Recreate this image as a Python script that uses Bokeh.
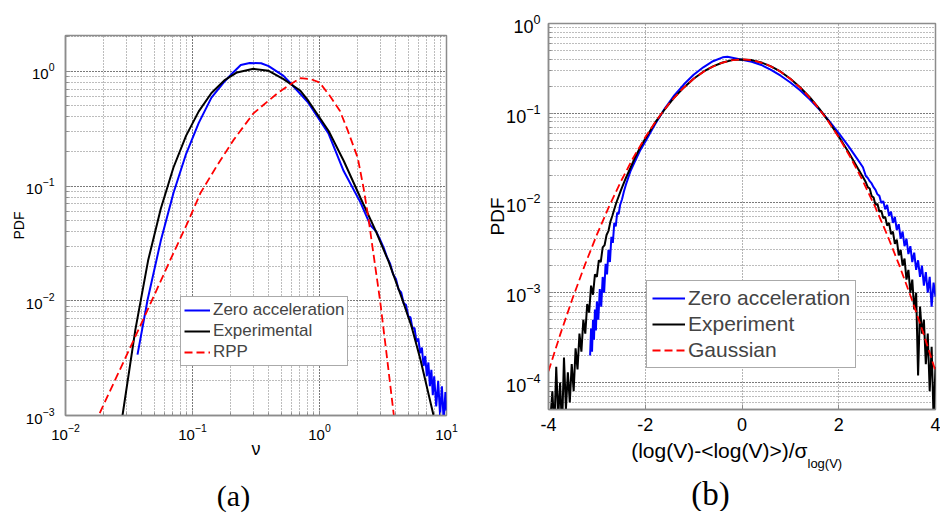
from bokeh.plotting import figure
from bokeh.models import Range1d, Legend, LegendItem, Label, FixedTicker
from bokeh.layouts import row
from bokeh.embed import file_html
from bokeh.resources import INLINE

# ---------------- data: panel (a) ----------------
zero_nu = [0.0369, 0.0443, 0.0562, 0.0708, 0.0891, 0.112, 0.141, 0.175, 0.209, 0.240,
           0.282, 0.347, 0.398, 0.521, 0.592, 0.818, 1.18, 1.55, 2.10, 2.52,
           2.8, 3.0, 3.2, 3.4, 3.6, 3.8, 4.0, 4.2, 4.4, 4.6, 4.8, 5.0, 5.2, 5.4, 5.6,
           5.8, 6.0, 6.2, 6.4, 6.6, 6.8, 7.0, 7.2, 7.4, 7.6, 7.8, 8.0, 8.3, 8.6, 8.9,
           9.2, 9.5, 9.8, 10.0]
zero_pdf = [3.39e-3, 0.0102, 0.0331, 0.087, 0.191, 0.355, 0.589, 0.794, 0.977, 1.135,
            1.18, 1.175, 1.109, 0.912, 0.787, 0.53, 0.285, 0.135, 0.072, 0.0454,
            0.040, 0.034, 0.029, 0.024, 0.021, 0.017, 0.0155, 0.0125, 0.0118, 0.0095,
            0.0092, 0.0073, 0.0072, 0.0057, 0.0058, 0.0044, 0.0047, 0.0035, 0.0039,
            0.0027, 0.0033, 0.0022, 0.0029, 0.0018, 0.0025, 0.0015, 0.0022, 0.0012,
            0.0020, 0.0010, 0.0018, 0.0009, 0.0016, 0.0011]

exp_nu = [0.0281, 0.0355, 0.0447, 0.0562, 0.0708, 0.0891, 0.112, 0.141, 0.178, 0.224,
          0.302, 0.398, 0.521, 0.708, 0.818, 1.18, 1.55, 2.10, 2.76, 3.5, 4.51, 5.3,
          6.24, 7.91, 8.5]
exp_pdf = [1.0e-3, 5.6e-3, 0.0224, 0.063, 0.145, 0.275, 0.447, 0.646, 0.832, 0.977,
           1.05, 1.01, 0.855, 0.676, 0.551, 0.302, 0.166, 0.079, 0.041, 0.022, 0.0101,
           0.0060, 3.06e-3, 1.0e-3, 6.3e-4]

rpp_nu = [0.0186, 0.04, 0.067, 0.09, 0.1156, 0.155, 0.21, 0.302, 0.40, 0.467, 0.58,
          0.708, 0.85, 1.0, 1.22, 1.45, 1.66, 2.0, 2.22, 2.43, 3.0, 3.4, 3.85]
rpp_pdf = [1.05e-3, 6.5e-3, 0.0228, 0.046, 0.087, 0.149, 0.251, 0.43, 0.558, 0.644,
           0.76, 0.87, 0.855, 0.80, 0.60, 0.45, 0.31, 0.176, 0.097, 0.052, 0.010,
           3.2e-3, 1.0e-3]

# ---------------- data: panel (b) ----------------
gauss_x = [-4.0, -3.75, -3.5, -3.25, -3.0, -2.75, -2.5, -2.25, -2.0, -1.75, -1.5, -1.25,
           -1.0, -0.75, -0.5, -0.25, 0.0, 0.25, 0.5, 0.75, 1.0, 1.25, 1.5, 1.75, 2.0,
           2.25, 2.5, 2.75, 3.0, 3.25, 3.5, 3.75, 4.0]
gauss_pdf = [1.338e-4, 3.527e-4, 8.727e-4, 2.029e-3, 4.432e-3, 9.094e-3, 1.753e-2,
             3.174e-2, 5.399e-2, 8.628e-2, 0.1295, 0.1826, 0.2420, 0.3011, 0.3521,
             0.3867, 0.3989, 0.3867, 0.3521, 0.3011, 0.2420, 0.1826, 0.1295, 8.628e-2,
             5.399e-2, 3.174e-2, 1.753e-2, 9.094e-3, 4.432e-3, 2.029e-3, 8.727e-4,
             3.527e-4, 1.338e-4]

expb_x = [-3.96, -3.92, -3.88, -3.84, -3.80, -3.76, -3.72, -3.68, -3.64, -3.60, -3.56,
          -3.52, -3.48, -3.44, -3.40, -3.36, -3.32, -3.28, -3.24, -3.20, -3.16, -3.12,
          -3.08, -3.04, -3.00, -2.96, -2.92, -2.88, -2.84, -2.80, -2.76, -2.72, -2.68,
          -2.64, -2.60, -2.50, -2.4, -2.3, -2.2, -2.1, -2.0, -1.8, -1.6, -1.4, -1.2,
          -1.0, -0.8, -0.6, -0.4, -0.2, 0.0, 0.2, 0.4, 0.6, 0.8, 1.0, 1.2, 1.4, 1.6,
          1.8, 2.0, 2.2, 2.4, 2.5, 2.56, 2.60, 2.64, 2.68, 2.72, 2.76, 2.80, 2.84, 2.88,
          2.92, 2.96, 3.00, 3.04, 3.08, 3.12, 3.16, 3.20, 3.24, 3.28, 3.32, 3.36, 3.40,
          3.44, 3.48, 3.52, 3.56, 3.60, 3.64, 3.68, 3.72, 3.76, 3.80, 3.84, 3.88, 3.92,
          3.96, 4.00]
expb_pdf = [4.0e-5, 8.0e-5, 3.0e-5, 1.5e-4, 4.0e-5, 1.0e-4, 3.0e-5, 1.9e-4, 5.0e-5,
            1.3e-4, 6.0e-5, 1.6e-4, 8.0e-5, 2.4e-4, 1.4e-4, 3.5e-4, 2.2e-4, 5.0e-4,
            3.5e-4, 7.5e-4, 6.0e-4, 1.2e-3, 9.5e-4, 1.6e-3, 1.5e-3, 2.3e-3, 2.2e-3,
            3.2e-3, 3.4e-3, 4.4e-3, 4.9e-3, 6.2e-3, 7.2e-3, 8.5e-3, 1.0e-2, 1.4e-2,
            1.9e-2, 2.5e-2, 3.3e-2, 4.2e-2, 5.2e-2, 7.8e-2, 0.110, 0.150, 0.194, 0.242,
            0.290, 0.333, 0.368, 0.391, 0.398, 0.391, 0.368, 0.333, 0.290, 0.242, 0.195,
            0.151, 0.112, 0.080, 0.055, 0.037, 0.024, 0.0195, 1.7e-2, 1.5e-2, 1.45e-2,
            1.2e-2, 1.15e-2, 9.5e-3, 9.8e-3, 8.0e-3, 8.2e-3, 6.8e-3, 7.0e-3, 5.6e-3,
            6.0e-3, 4.5e-3, 4.8e-3, 3.5e-3, 3.9e-3, 2.6e-3, 3.0e-3, 2.0e-3, 2.4e-3,
            1.4e-3, 1.8e-3, 1.0e-3, 1.4e-3, 6.5e-4, 1.0e-3, 1.2e-4, 7.0e-4, 3.5e-4,
            5.0e-4, 1.6e-4, 3.5e-4, 8.0e-5, 2.5e-4, 4.0e-5, 1.5e-4]

zerob_x = [-3.14, -3.12, -3.10, -3.08, -3.06, -3.04, -3.02, -3.00, -2.97, -2.94, -2.91,
           -2.88, -2.85, -2.82, -2.79, -2.76, -2.73, -2.70, -2.67, -2.64, -2.61, -2.58,
           -2.55, -2.52, -2.48, -2.44, -2.40, -2.30, -2.20, -2.10, -2.00, -1.80, -1.60,
           -1.40, -1.20, -1.00, -0.80, -0.60, -0.40, -0.30, -0.20, 0.0, 0.2, 0.4, 0.6,
           0.8, 1.0, 1.2, 1.4, 1.6, 1.8, 2.0, 2.2, 2.4, 2.5, 2.56, 2.60, 2.64, 2.68,
           2.72, 2.76, 2.80, 2.84, 2.88, 2.92, 2.96, 3.00, 3.04, 3.08, 3.12, 3.16, 3.20,
           3.24, 3.28, 3.32, 3.36, 3.40, 3.44, 3.48, 3.52, 3.56, 3.60, 3.64, 3.68, 3.72,
           3.76, 3.80, 3.84, 3.88, 3.92, 3.96, 4.00]
zerob_pdf = [2.0e-4, 4.0e-4, 2.2e-4, 5.0e-4, 3.0e-4, 6.5e-4, 3.8e-4, 8.0e-4, 5.0e-4,
             1.1e-3, 7.0e-4, 1.5e-3, 1.0e-3, 2.1e-3, 1.6e-3, 3.0e-3, 2.2e-3, 4.2e-3,
             3.6e-3, 6.0e-3, 5.5e-3, 7.8e-3, 7.5e-3, 9.5e-3, 1.1e-2, 1.35e-2, 1.6e-2,
             2.3e-2, 3.0e-2, 3.9e-2, 4.8e-2, 7.5e-2, 0.112, 0.158, 0.210, 0.268, 0.325,
             0.380, 0.420, 0.425, 0.415, 0.395, 0.375, 0.345, 0.305, 0.262, 0.220,
             0.180, 0.143, 0.110, 0.082, 0.060, 0.043, 0.030, 0.025, 2.0e-2, 1.9e-2,
             1.75e-2, 1.65e-2, 1.5e-2, 1.4e-2, 1.25e-2, 1.2e-2, 1.0e-2, 1.05e-2, 8.5e-3,
             9.5e-3, 7.2e-3, 8.0e-3, 6.0e-3, 7.0e-3, 5.0e-3, 5.8e-3, 4.0e-3, 4.8e-3,
             3.3e-3, 4.0e-3, 2.7e-3, 3.3e-3, 2.2e-3, 2.8e-3, 1.8e-3, 2.3e-3, 1.5e-3,
             2.0e-3, 1.2e-3, 1.7e-3, 1.0e-3, 1.5e-3, 7.0e-4, 1.3e-3, 9.0e-4]

xticks_b = [-4, -2, 0, 2, 4]
xtick_labels_b = ["-4", "-2", "0", "2", "4"]

FONT = "Liberation Sans"
SERIF = "Liberation Serif"
FRAME = "#8c8c8c"
GRID = "#5a5a5a"


def style(p, tick_size, xstand, ystand):
    p.outline_line_color = FRAME
    p.outline_line_width = 1.5
    p.background_fill_color = "white"
    p.border_fill_color = "white"
    for ax in p.axis:
        ax.axis_line_color = FRAME
        ax.axis_line_width = 1.5
        ax.major_tick_in = 5
        ax.major_tick_out = 0
        ax.minor_tick_in = 3
        ax.minor_tick_out = 0
        ax.major_tick_line_color = FRAME
        ax.minor_tick_line_color = FRAME
        ax.major_label_text_font = FONT
        ax.major_label_text_font_size = tick_size
        ax.major_label_text_color = "black"
        ax.axis_label_text_font = FONT
        ax.axis_label_text_font_style = "normal"
        ax.axis_label_text_color = "black"
    p.xaxis.major_label_standoff = xstand
    p.yaxis.major_label_standoff = ystand
    for g in (p.xgrid, p.ygrid):
        g.grid_line_color = GRID
        g.grid_line_dash = "1 2"
        g.grid_line_width = 1
        g.grid_line_alpha = 0.9
        g.minor_grid_line_color = GRID
        g.minor_grid_line_dash = "1 2"
        g.minor_grid_line_width = 1
        g.minor_grid_line_alpha = 0.8


# ---------------- panel (a) ----------------
p1 = figure(width=470, height=505, x_axis_type="log", y_axis_type="log",
            x_range=Range1d(1e-2, 10), y_range=Range1d(1e-3, 2.05),
            output_backend="svg", toolbar_location=None, title=None,
            min_border_left=65, min_border_right=24, min_border_top=23,
            min_border_bottom=101)
p1.margin = (12, 0, 0, 0)
style(p1, "15px", 8, 11)
p1.yaxis.axis_label = "PDF"
p1.yaxis.axis_label_text_font_size = "14px"
p1.yaxis.axis_label_standoff = -4
p1.xaxis.axis_label = "ν"
p1.xaxis.axis_label_text_font_size = "18px"
p1.xaxis.axis_label_standoff = -4

r1b = p1.line(zero_nu, zero_pdf, line_color="#0000ff", line_width=2)
r1k = p1.line(exp_nu, exp_pdf, line_color="black", line_width=2)
r1r = p1.line(rpp_nu, rpp_pdf, line_color="#ff0000", line_width=1.8, line_dash="8 4")

leg1 = Legend(items=[LegendItem(label="Zero acceleration", renderers=[r1b]),
                     LegendItem(label="Experimental", renderers=[r1k]),
                     LegendItem(label="RPP", renderers=[r1r])],
              location=(115, 49), label_text_font=FONT, label_text_font_size="17px",
              glyph_width=26, glyph_height=20, label_height=20, label_standoff=3,
              spacing=1, padding=3, margin=0, border_line_color="#555555",
              border_line_width=1, background_fill_color="white", background_fill_alpha=1)
p1.add_layout(leg1, "center")

# panel caption, placed in the side panel (data coordinates below the frame)
p1.add_layout(Label(x=0.2103, y=2.016e-4, text="(a)", text_align="center",
                    text_baseline="middle", text_font=SERIF, text_font_size="30px",
                    text_color="black"), "below")

# ---------------- panel (b) ----------------
p2 = figure(width=470, height=511, y_axis_type="log",
            x_range=Range1d(-4, 4), y_range=Range1d(5e-5, 1),
            output_backend="svg", toolbar_location=None, title=None,
            min_border_left=78, min_border_right=5, min_border_top=23,
            min_border_bottom=102)
style(p2, "18px", 8, 8)
p2.xaxis.ticker = FixedTicker(ticks=xticks_b)
p2.xaxis.major_label_overrides = dict(zip(xticks_b, xtick_labels_b))
p2.xgrid.minor_grid_line_color = None
p2.xaxis.minor_tick_line_color = None
p2.yaxis.axis_label = "PDF"
p2.yaxis.axis_label_text_font_size = "19px"
p2.yaxis.axis_label_standoff = -5

r2b = p2.line(zerob_x, zerob_pdf, line_color="#0000ff", line_width=2)
r2k = p2.line(expb_x, expb_pdf, line_color="black", line_width=2)
r2r = p2.line(gauss_x, gauss_pdf, line_color="#ff0000", line_width=1.8, line_dash="8 4")

leg2 = Legend(items=[LegendItem(label="Zero acceleration", renderers=[r2b]),
                     LegendItem(label="Experiment", renderers=[r2k]),
                     LegendItem(label="Gaussian", renderers=[r2r])],
              location=(98, 41), label_text_font=FONT, label_text_font_size="21px",
              glyph_width=33, glyph_height=22, label_height=22, label_standoff=3,
              spacing=2, padding=5, margin=0, border_line_color="#555555",
              border_line_width=1, background_fill_color="white", background_fill_alpha=1)
p2.add_layout(leg2, "center")

p2.add_layout(Label(x=1.354, y=1.746e-5, text="(log(V)-<log(V)>)/σ",
                    text_align="right", text_baseline="middle", text_font=FONT,
                    text_font_size="21px", text_color="black"), "below")
p2.add_layout(Label(x=1.354, y=1.25e-5, text="log(V)", text_align="left",
                    text_baseline="middle", text_font=FONT, text_font_size="13px",
                    text_color="black"), "below")
p2.add_layout(Label(x=-0.651, y=5.65e-6, text="(b)", text_align="center",
                    text_baseline="middle", text_font=SERIF, text_font_size="33px",
                    text_color="black"), "below")

layout = row(p1, p2)
open("out.html", "w").write(file_html(layout, INLINE, "PDF comparison"))
